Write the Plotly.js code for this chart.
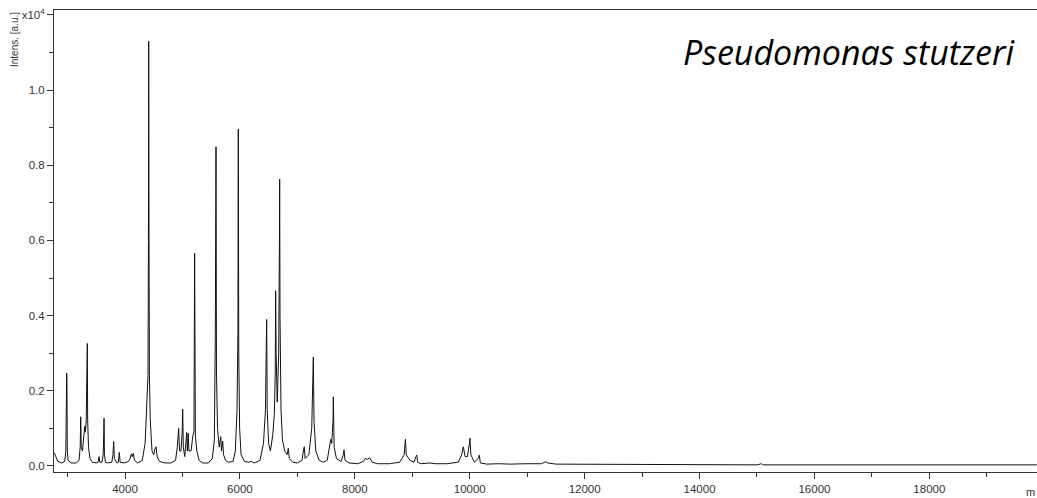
<!DOCTYPE html>
<html>
<head>
<meta charset="utf-8">
<script src="https://cdn.plot.ly/plotly-3.0.1.min.js"></script>
<style>html,body{margin:0;padding:0;background:#fff;}#chart{width:1037px;height:498px;}</style>
</head>
<body>
<div id="chart"></div>
<script>
// m/z values of the spectrum trace
const mz = [
 2770,2790,2830,2900,2950,2970,2980,2985,2990,2995,3010,3060,3150,3200,3220,3229,3238,3260,3285,3298,
 3310,3325,3338,3344,3350,3365,3390,3430,3500,3530,3547,3560,3600,3620,3630,3635,3642,3660,3700,3770,
 3790,3803,3815,3860,3885,3901,3915,3980,4060,4090,4110,4125,4145,4165,4220,4300,4350,4385,4400,4408,
 4412,4418,4425,4440,4470,4500,4520,4540,4560,4600,4700,4800,4880,4910,4934,4950,4975,4995,5004,5015,
 5040,5065,5074,5085,5100,5112,5150,5180,5200,5212,5225,5250,5290,5350,5450,5520,5555,5572,5584,5592,
 5610,5640,5666,5680,5700,5715,5750,5800,5880,5920,5950,5965,5972,5980,5995,6020,6080,6150,6200,6250,
 6350,6410,6445,6458,6466,6475,6500,6530,6570,6600,6615,6622,6630,6650,6675,6688,6692,6698,6715,6740,
 6780,6820,6842,6860,6920,7000,7080,7110,7121,7135,7200,7250,7270,7278,7290,7320,7380,7450,7520,7565,
 7580,7598,7620,7626,7640,7680,7760,7800,7812,7830,7900,8050,8150,8180,8220,8260,8300,8400,8600,8780,
 8833,8860,8880,8895,8960,9030,9065,9077,9095,9150,9300,9400,9600,9800,9860,9889,9920,9960,9995,10005,
 10020,10080,10150,10167,10185,10300,10500,10700,11000,11250,11320,11360,11500,12000,12500,13000,13500,14000,14500,15000,
 15080,15100,16000,17000,18000,19000,19870
];
// intensities in units of 10^4 a.u.
const intens = [
 0.035,0.028,0.012,0.008,0.012,0.040,0.210,0.247,0.210,0.040,0.015,0.008,0.008,0.015,0.050,0.131,0.050,0.040,0.080,0.106,
 0.090,0.120,0.264,0.326,0.120,0.050,0.020,0.010,0.008,0.010,0.025,0.010,0.010,0.030,0.085,0.127,0.030,0.010,0.008,0.010,
 0.030,0.065,0.020,0.008,0.010,0.036,0.010,0.008,0.012,0.020,0.032,0.025,0.034,0.015,0.008,0.015,0.060,0.200,0.240,0.600,
 1.130,0.600,0.240,0.120,0.040,0.030,0.045,0.051,0.025,0.012,0.008,0.008,0.015,0.050,0.100,0.040,0.040,0.090,0.151,0.050,
 0.025,0.060,0.089,0.040,0.087,0.040,0.040,0.080,0.090,0.566,0.080,0.040,0.015,0.008,0.008,0.020,0.070,0.350,0.849,0.250,
 0.100,0.050,0.078,0.040,0.066,0.030,0.015,0.010,0.012,0.040,0.150,0.350,0.896,0.300,0.100,0.030,0.012,0.010,0.012,0.008,
 0.015,0.060,0.150,0.310,0.390,0.150,0.060,0.040,0.080,0.140,0.250,0.466,0.300,0.170,0.300,0.600,0.763,0.400,0.150,0.070,
 0.040,0.030,0.047,0.020,0.010,0.008,0.015,0.045,0.051,0.020,0.030,0.100,0.200,0.290,0.120,0.040,0.015,0.010,0.015,0.050,
 0.071,0.060,0.120,0.184,0.050,0.020,0.012,0.030,0.043,0.015,0.008,0.006,0.012,0.020,0.018,0.022,0.010,0.006,0.006,0.010,
 0.025,0.030,0.071,0.030,0.015,0.010,0.025,0.029,0.010,0.006,0.008,0.006,0.006,0.010,0.030,0.051,0.025,0.025,0.060,0.074,
 0.030,0.010,0.020,0.029,0.008,0.005,0.006,0.005,0.006,0.006,0.011,0.008,0.005,0.005,0.004,0.004,0.004,0.004,0.003,0.003,
 0.006,0.003,0.003,0.003,0.003,0.003,0.003
];
const yTickVals = [0, 0.2, 0.4, 0.6, 0.8, 1.0, 1.2];
const yTickText = ['0.0', '0.2', '0.4', '0.6', '0.8', '1.0', 'x10<sup>4</sup>'];
const xTickVals = [4000, 6000, 8000, 10000, 12000, 14000, 16000, 18000];
const xTickText = ['4000', '6000', '8000', '10000', '12000', '14000', '16000', '18000'];
const titleText = 'Pseudomonas stutzeri';
const yLabel = 'Intens. [a.u.]';
const xLabel = 'm';

const tickFont = {family: 'Liberation Sans, Arial, sans-serif', size: 11.5, color: '#333'};

Plotly.newPlot('chart', [{
  x: mz, y: intens, type: 'scatter', mode: 'lines',
  line: {color: '#111', width: 1}, hoverinfo: 'skip'
}], {
  width: 1037, height: 498,
  margin: {l: 54, r: 0, t: 10, b: 26, pad: 0},
  paper_bgcolor: '#fff', plot_bgcolor: '#fff',
  showlegend: false,
  xaxis: {
    range: [2764, 19874], showgrid: false, zeroline: false,
    showline: true, mirror: true, linecolor: '#333', linewidth: 1,
    tickmode: 'array', tickvals: xTickVals, ticktext: xTickText,
    ticks: 'outside', ticklen: 6, tickcolor: '#333', tickfont: tickFont,
    minor: {dtick: 1000, tick0: 0, ticks: 'outside', ticklen: 4, tickcolor: '#333'}
  },
  yaxis: {
    range: [-0.016, 1.213], showgrid: false, zeroline: false,
    showline: true, mirror: false, linecolor: '#333', linewidth: 1,
    tickmode: 'array', tickvals: yTickVals, ticktext: yTickText,
    ticks: 'outside', ticklen: 6, tickcolor: '#333', tickfont: tickFont,
    minor: {dtick: 0.1, tick0: 0, ticks: 'outside', ticklen: 4, tickcolor: '#333'}
  },
  annotations: [
    {text: titleText, xref: 'paper', yref: 'paper', x: (681 - 54) / 983, y: (472 - 52) / 462,
     xanchor: 'left', yanchor: 'middle', showarrow: false,
     font: {family: 'Open Sans, Noto Sans, sans-serif', size: 34, color: '#000', style: 'italic'}},
    {text: yLabel, xref: 'paper', yref: 'paper', x: (14 - 54) / 983, y: (472 - 40) / 462,
     xanchor: 'center', yanchor: 'middle', textangle: -90, showarrow: false,
     font: {family: 'Liberation Sans, Arial, sans-serif', size: 10, color: '#333'}},
    {text: xLabel, xref: 'paper', yref: 'paper', x: 1, y: (472 - 492) / 462,
     xanchor: 'right', yanchor: 'middle', showarrow: false,
     font: {family: 'Liberation Sans, Arial, sans-serif', size: 11, color: '#333'}}
  ]
}, {displayModeBar: false, staticPlot: true});
</script>
</body>
</html>
